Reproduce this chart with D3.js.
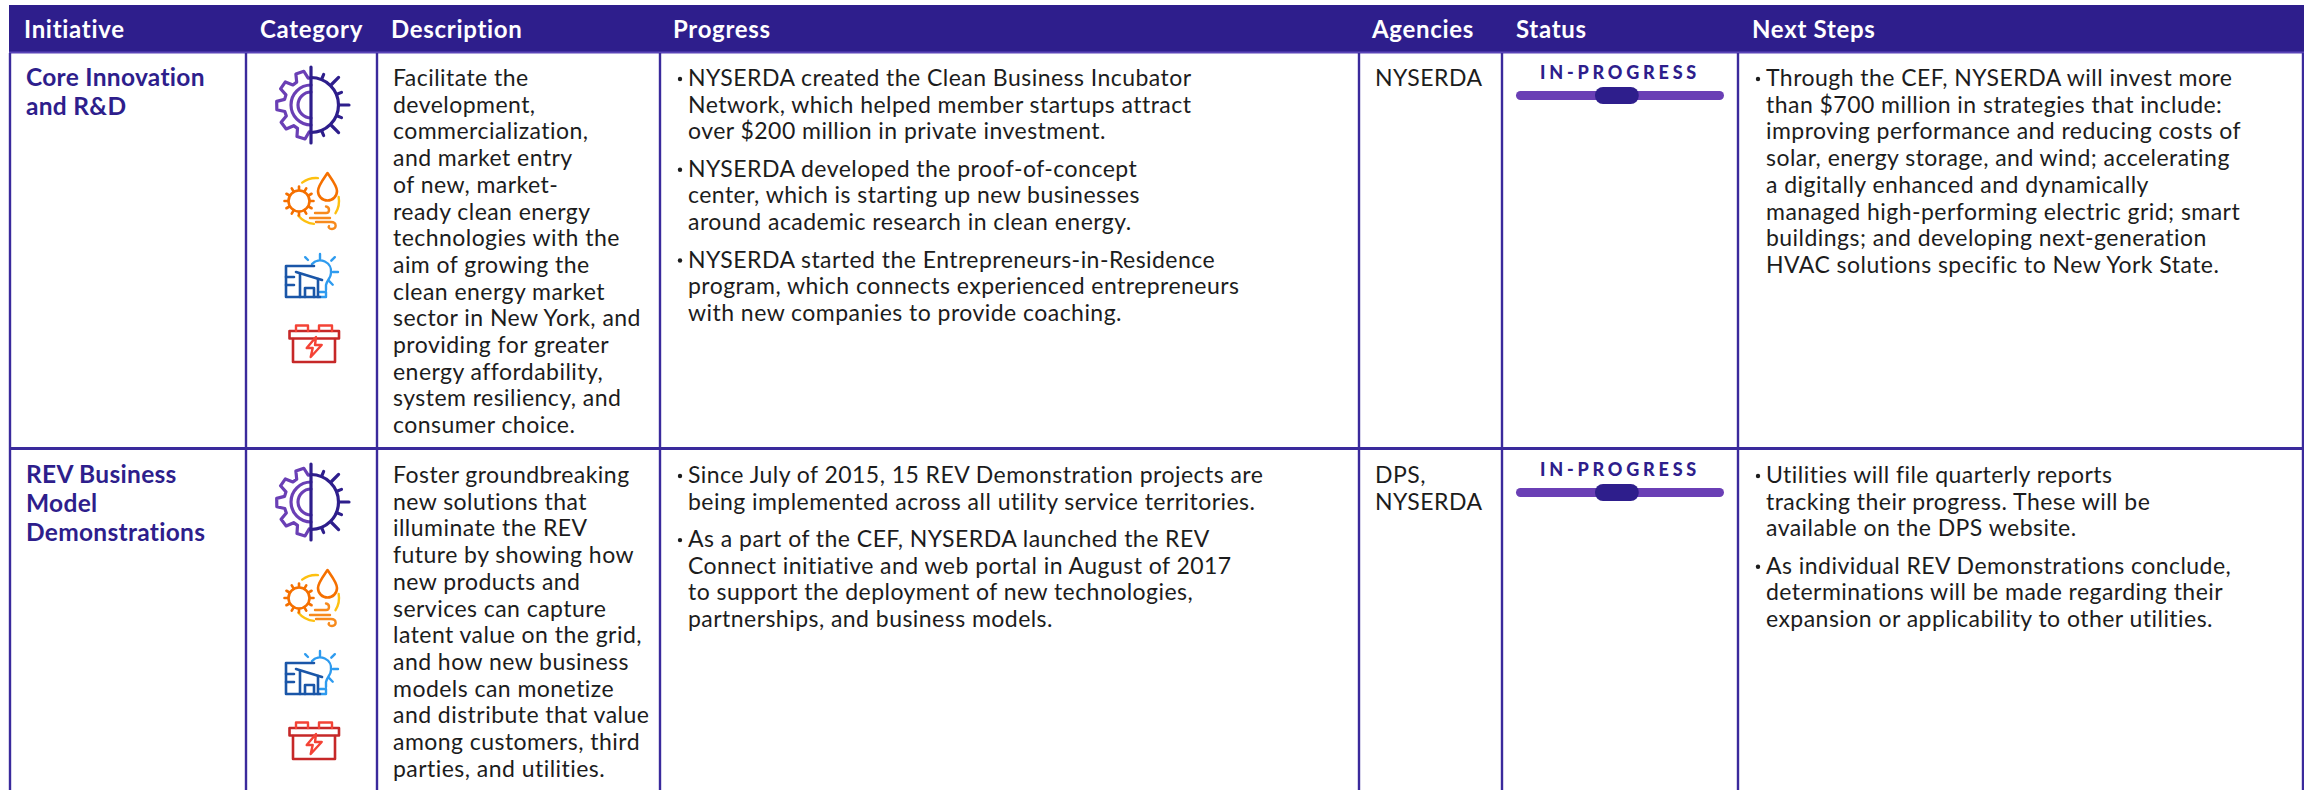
<!DOCTYPE html>
<html lang="en">
    <head>
        <meta charset="utf-8">
        <title>Initiatives table</title>
        <script src="https://d3js.org/d3.v7.min.js"></script>
        <style>
            html, body { margin: 0; padding: 0; background: #fff; }
            svg { display: block; }
            text { font-family: Lato, "Open Sans", sans-serif; }
            .head { font-size: 24px; font-weight: 700; fill: #fff; letter-spacing: 0.7px; }
            .title { font-size: 24.5px; font-weight: 700; fill: #2e1e8c; letter-spacing: 0.3px; }
            .body { font-size: 23px; fill: #1c1c1c; letter-spacing: 0.46px; }
            .status { font-size: 18px; font-weight: 900; fill: #2e1e8c; letter-spacing: 3.8px; text-anchor: middle; }
            .ico { fill: none; stroke-linecap: round; stroke-linejoin: round; }
        </style>
    </head>
    <body>
        <script type="text/javascript">

            var headers = ["Initiative", "Category", "Description", "Progress", "Agencies", "Status", "Next Steps"];
            var initiatives = [
                ["Core Innovation", "and R&D"],
                ["REV Business", "Model", "Demonstrations"]
            ];
            var descriptions = [
                ["Facilitate the", "development,", "commercialization,", "and market entry", "of new, market-", "ready clean energy",
                 "technologies with the", "aim of growing the", "clean energy market", "sector in New York, and",
                 "providing for greater", "energy affordability,", "system resiliency, and", "consumer choice."],
                ["Foster groundbreaking", "new solutions that", "illuminate the REV", "future by showing how", "new products and",
                 "services can capture", "latent value on the grid,", "and how new business", "models can monetize",
                 "and distribute that value", "among customers, third", "parties, and utilities."]
            ];
            var progress = [
                [["NYSERDA created the Clean Business Incubator", "Network, which helped member startups attract", "over $200 million in private investment."],
                 ["NYSERDA developed the proof-of-concept", "center, which is starting up new businesses", "around academic research in clean energy."],
                 ["NYSERDA started the Entrepreneurs-in-Residence", "program, which connects experienced entrepreneurs", "with new companies to provide coaching."]],
                [["Since July of 2015, 15 REV Demonstration projects are", "being implemented across all utility service territories."],
                 ["As a part of the CEF, NYSERDA launched the REV", "Connect initiative and web portal in August of 2017", "to support the deployment of new technologies,", "partnerships, and business models."]]
            ];
            var agencies = [["NYSERDA"], ["DPS,", "NYSERDA"]];
            var statuses = ["IN-PROGRESS", "IN-PROGRESS"];
            var nextSteps = [
                [["Through the CEF, NYSERDA will invest more", "than $700 million in strategies that include:", "improving performance and reducing costs of",
                  "solar, energy storage, and wind; accelerating", "a digitally enhanced and dynamically", "managed high-performing electric grid; smart",
                  "buildings; and developing next-generation", "HVAC solutions specific to New York State."]],
                [["Utilities will file quarterly reports", "tracking their progress. These will be", "available on the DPS website."],
                 ["As individual REV Demonstrations conclude,", "determinations will be made regarding their", "expansion or applicability to other utilities."]]
            ];

            var width = 2304, height = 790;
            var navy = "#2e1e8c", rule = "#3a2a9c", violet = "#6a3fb5";
            var deg = Math.PI / 180;

            // column rules and where the text sits in each column
            var colX = d3.scaleOrdinal(headers, [10, 246, 377, 660, 1359, 1502, 1738]);
            var headX = d3.scaleOrdinal(headers, [24, 260, 391, 673, 1372, 1516, 1752]);
            var rowY = d3.scaleOrdinal([0, 1], [0, 397]);   // row offset
            var lineY = d3.scaleLinear().domain([0, 1]).range([86, 112.7]);
            var titleY = d3.scaleLinear().domain([0, 1]).range([86, 115]);
            var trackX = d3.scaleLinear().domain([0, 1]).range([1516, 1724]);

            var svg = d3.select("body").append("svg")
                .attr("width", width)
                .attr("height", height);

            svg.append("rect").attr("x", 9).attr("y", 5).attr("width", 2295).attr("height", 47).attr("fill", navy);
            svg.append("line").attr("x1", 9).attr("x2", 2304).attr("y1", 52.5).attr("y2", 52.5).attr("stroke", "#5a45b8").attr("stroke-width", 2);

            // rules
            svg.selectAll(".vrule").data(headers).enter().append("line")
                .attr("class", "vrule")
                .attr("x1", d => colX(d)).attr("x2", d => colX(d))
                .attr("y1", 53).attr("y2", height)
                .attr("stroke", rule).attr("stroke-width", 2.4);
            svg.append("line").attr("x1", 2303).attr("x2", 2303).attr("y1", 53).attr("y2", height).attr("stroke", rule).attr("stroke-width", 2.4);
            svg.append("line").attr("x1", 9).attr("x2", 2304).attr("y1", 448.5).attr("y2", 448.5).attr("stroke", rule).attr("stroke-width", 3);

            svg.selectAll(".head").data(headers).enter().append("text")
                .attr("class", "head")
                .attr("x", d => headX(d))
                .attr("y", 38)
                .text(d => d);

            // paragraphs with bullets, 38px between blocks
            function bullets(g, blocks, textX, bulletX) {
                var y = 0;
                blocks.forEach(function(lines) {
                    g.append("circle").attr("cx", bulletX).attr("cy", lineY(y) - 7).attr("r", 2.2).attr("fill", "#1c1c1c");
                    lines.forEach(function(line, i) {
                        g.append("text").attr("class", "body").attr("x", textX).attr("y", lineY(y + i)).text(line);
                    });
                    y += lines.length + 0.4;
                });
            }

            function arcPath(r, a0, a1) {
                return d3.arc().innerRadius(r).outerRadius(r).startAngle(a0 * deg).endAngle(a1 * deg)();
            }

            function ray(g, cx, cy, a, r0, r1) {
                g.append("line")
                    .attr("x1", cx + r0 * Math.sin(a * deg)).attr("y1", cy - r0 * Math.cos(a * deg))
                    .attr("x2", cx + r1 * Math.sin(a * deg)).attr("y2", cy - r1 * Math.cos(a * deg));
            }

            function gearIcon(g) {
                var cx = 311, cy = 105;
                var teeth = [-19, -55, -91, -127, -163];
                var pts = [[0, 27]];
                teeth.forEach(function(a) {
                    pts.push([a - 13, 27], [a - 7, 34.5], [a + 7, 34.5], [a + 13, 27]);
                });
                pts.sort((p, q) => q[0] - p[0]);
                pts.push([-180, 27]);
                var left = g.append("g").attr("class", "ico").attr("stroke", violet).attr("stroke-width", 3.2)
                    .attr("transform", `translate(${cx},${cy})`);
                left.append("path").attr("d", d3.lineRadial().angle(d => d[0] * deg).radius(d => d[1])(pts));
                left.append("path").attr("d", arcPath(20, -180, 0));
                left.append("path").attr("d", arcPath(13, -180, 0));
                var right = g.append("g").attr("class", "ico").attr("stroke", navy).attr("stroke-width", 3.2);
                right.append("path").attr("transform", `translate(${cx},${cy})`).attr("d", arcPath(27.5, 0, 180));
                [22.5, 67.5, 112.5, 157.5].forEach(a => ray(right, cx, cy, a, 28, 33));
                ray(right, cx, cy, 45, 29, 39);
                ray(right, cx, cy, 135, 29, 39);
                ray(right, cx, cy, 90, 28, 38);
                right.append("line").attr("x1", cx).attr("x2", cx).attr("y1", 67).attr("y2", 143);
            }

            function elementsIcon(g) {
                var orange = "#f57000";
                var yellow = g.append("g").attr("class", "ico").attr("stroke", "#fdc010").attr("stroke-width", 2.4)
                    .attr("transform", "translate(316,201)");
                [[-37, 5], [80, 122], [185, 230]].forEach(a => yellow.append("path").attr("d", arcPath(23, a[0], a[1])));
                var o = g.append("g").attr("class", "ico").attr("stroke", orange).attr("stroke-width", 2.6);
                o.append("circle").attr("cx", 299).attr("cy", 201).attr("r", 10.5);
                d3.range(0, 360, 30).forEach(a => ray(o, 299, 201, a, 11, 14.5));
                o.append("path").attr("d", "M327.5 173C322 181 318 186 318 191A9.5 9.5 0 0 0 337 191C337 186 333 181 327.5 173Z");
                var w = g.append("g").attr("class", "ico").attr("stroke", "#f78a1c").attr("stroke-width", 2.4);
                w.append("path").attr("d", "M315 213H326C330 213 330 207 326 206.5");
                w.append("path").attr("d", "M310 218H330");
                w.append("path").attr("d", "M316 222H331C337 222 337 229 332 229C329 229 328 227 329 226");
            }

            function buildingIcon(g) {
                var blue = g.append("g").attr("class", "ico").attr("stroke", "#2e9bef").attr("stroke-width", 2.4);
                blue.append("path").attr("d", "M312 264A11 11 0 0 1 331 273C331 278 327 280 326 285V290");
                blue.append("path").attr("d", "M320 292H326V297H320");
                ray(blue, 320, 272, 0, 13, 18);
                ray(blue, 320, 272, -45, 17, 21);
                ray(blue, 320, 272, 45, 16, 21);
                ray(blue, 320, 272, 90, 13, 18);
                ray(blue, 320, 272, 135, 13, 18);
                var dark = g.append("g").attr("class", "ico").attr("stroke", "#1a56a8").attr("stroke-width", 2.6);
                dark.append("path").attr("d", "M314 266H286V297H320");
                dark.append("path").attr("d", "M286 277H294M286 285H294");
                dark.append("path").attr("d", "M296 272L322 280");
                dark.append("path").attr("d", "M300 274V297M318 279V297");
                dark.append("path").attr("d", "M305 297V288H314V297");
            }

            function batteryIcon(g) {
                var red = g.append("g").attr("class", "ico").attr("stroke", "#c62828").attr("stroke-width", 2.6);
                red.append("path").attr("d", "M293 339V362H335V339");
                red.append("rect").attr("x", 289.5).attr("y", 331).attr("width", 49.5).attr("height", 7.5);
                var light = g.append("g").attr("class", "ico").attr("stroke", "#f44336").attr("stroke-width", 2.4);
                light.append("path").attr("d", "M296 331V325.5H308V331M319 331V325.5H332V331");
                light.append("path").attr("d", "M316 337L306.7 348H312.7L310.7 357L321.7 345H315Z");
            }

            initiatives.forEach(function(title, r) {
                var row = svg.append("g").attr("transform", `translate(0,${rowY(r)})`);

                row.selectAll(".title").data(title).enter().append("text")
                    .attr("class", "title")
                    .attr("x", 26)
                    .attr("y", (d, i) => titleY(i))
                    .text(d => d);

                gearIcon(row);
                elementsIcon(row);
                buildingIcon(row);
                batteryIcon(row);

                row.selectAll(".desc").data(descriptions[r]).enter().append("text")
                    .attr("class", "body desc")
                    .attr("x", 393)
                    .attr("y", (d, i) => lineY(i))
                    .text(d => d);

                bullets(row.append("g"), progress[r], 688, 680);

                row.selectAll(".agency").data(agencies[r]).enter().append("text")
                    .attr("class", "body agency")
                    .attr("x", 1375)
                    .attr("y", (d, i) => lineY(i))
                    .text(d => d);

                row.append("text").attr("class", "status").attr("x", trackX(0.5)).attr("y", 79).text(statuses[r]);
                row.append("rect").attr("x", trackX(0)).attr("y", 91).attr("width", trackX(1) - trackX(0)).attr("height", 9)
                    .attr("rx", 4.5).attr("fill", violet);
                row.append("rect").attr("x", trackX(0.38)).attr("y", 87).attr("width", trackX(0.59) - trackX(0.38)).attr("height", 17)
                    .attr("rx", 8).attr("fill", navy);

                bullets(row.append("g"), nextSteps[r], 1766, 1758);
            });

        </script>
    </body>
</html>
